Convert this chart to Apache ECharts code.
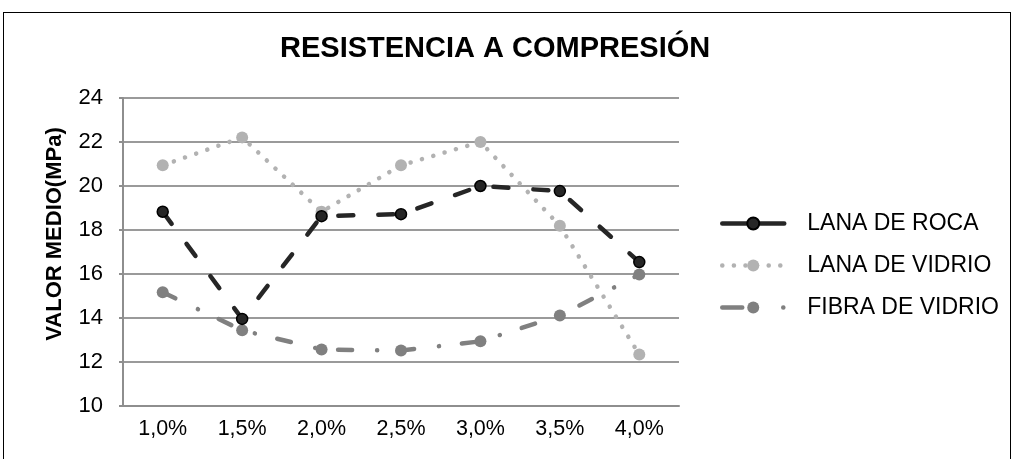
<!DOCTYPE html>
<html>
<head>
<meta charset="utf-8">
<title>Resistencia a compresión</title>
<script src="https://cdn.jsdelivr.net/npm/echarts@6/dist/echarts.min.js"></script>
<style>
  html, body { margin: 0; padding: 0; background: #fff; }
  #wrap { position: relative; width: 1011px; height: 459px; overflow: hidden; }
  #main { width: 1011px; height: 459px; }
  /* marco exterior del gráfico */
  #frame {
    position: absolute; left: 3px; top: 12px; width: 1006px; height: 470px;
    border: 1.5px solid #000; pointer-events: none;
  }
</style>
</head>
<body>
<div id="wrap">
  <div id="main"></div>
  <div id="frame"></div>
</div>
<script>
// datos
var categorias = ['1,0%', '1,5%', '2,0%', '2,5%', '3,0%', '3,5%', '4,0%'];
var lanaRoca = [18.83, 13.96, 18.63, 18.72, 20.0, 19.77, 16.54];
var lanaVidrio = [20.94, 22.21, 18.83, 20.94, 22.0, 18.19, 12.34];
var fibraVidrio = [15.17, 13.44, 12.57, 12.52, 12.94, 14.11, 15.98];
var nombres = ['LANA DE ROCA', 'LANA DE VIDRIO', 'FIBRA DE VIDRIO'];

var FONT = '"Liberation Sans", Arial, sans-serif';
var colores = ['#262626', '#b2b2b2', '#808080'];

var myChart = echarts.init(document.getElementById('main'), null, { renderer: 'canvas' });

var option = {
  backgroundColor: '#fff',
  animation: false,
  textStyle: { fontFamily: FONT },
  title: {
    text: 'RESISTENCIA A COMPRESIÓN',
    left: 280,
    top: 34,
    padding: 0,
    textStyle: { fontFamily: FONT, fontSize: 29, fontWeight: 'bold', color: '#000' }
  },
  legend: {
    orient: 'vertical',
    left: 720,
    top: 212,
    padding: 0,
    itemWidth: 62,
    itemHeight: 15,
    itemGap: 19,
    textStyle: { fontFamily: FONT, fontSize: 23, color: '#000', padding: [0, 0, 0, 18] },
    // el icono de la leyenda lleva su propio patrón de trazo
    data: [
      { name: nombres[0], lineStyle: { width: 4.5, type: [24, 14], cap: 'round', color: colores[0] } },
      { name: nombres[1], lineStyle: { width: 4.5, type: [0.1, 11.5], cap: 'round', color: colores[1] } },
      { name: nombres[2], lineStyle: { width: 4.5, type: [20, 41, 0.1, 10], cap: 'round', color: colores[2] } }
    ]
  },
  grid: { left: 123, right: 332, top: 98, bottom: 53, containLabel: false },
  xAxis: {
    type: 'category',
    data: categorias,
    boundaryGap: true,
    axisLine: { show: true, lineStyle: { color: '#8e8e8e', width: 2 } },
    axisTick: { show: false },
    axisLabel: { fontFamily: FONT, fontSize: 21.5, color: '#000', margin: 12 }
  },
  yAxis: {
    type: 'value',
    min: 10,
    max: 24,
    interval: 2,
    name: 'VALOR MEDIO(MPa)',
    nameLocation: 'middle',
    nameGap: 57,
    nameTextStyle: { fontFamily: FONT, fontSize: 22, fontWeight: 'bold', color: '#000', padding: [0, 0, 0, 36] },
    axisLine: { show: true, lineStyle: { color: '#8e8e8e', width: 2 } },
    axisTick: { show: true, inside: false, length: 4, lineStyle: { color: '#8e8e8e', width: 2 } },
    axisLabel: { fontFamily: FONT, fontSize: 22, color: '#000', margin: 20 },
    splitLine: { show: true, lineStyle: { color: '#9a9a9a', width: 2 } }
  },
  series: [
    {
      name: nombres[0],
      type: 'line',
      data: lanaRoca,
      z: 4,
      symbol: 'circle',
      symbolSize: 11,
      itemStyle: { color: colores[0], borderColor: '#000', borderWidth: 1.5 },
      lineStyle: { color: colores[0], width: 4.5, type: [15, 25], cap: 'round' }
    },
    {
      name: nombres[1],
      type: 'line',
      data: lanaVidrio,
      z: 2,
      symbol: 'circle',
      symbolSize: 12,
      itemStyle: { color: colores[1], borderWidth: 0 },
      lineStyle: { color: colores[1], width: 4.5, type: [0.1, 11.7], cap: 'round' }
    },
    {
      name: nombres[2],
      type: 'line',
      data: fibraVidrio,
      z: 3,
      symbol: 'circle',
      symbolSize: 12,
      itemStyle: { color: colores[2], borderWidth: 0 },
      lineStyle: { color: colores[2], width: 4.5, type: [14, 25, 0.1, 23], cap: 'round' }
    }
  ]
};

myChart.setOption(option);
</script>
</body>
</html>
